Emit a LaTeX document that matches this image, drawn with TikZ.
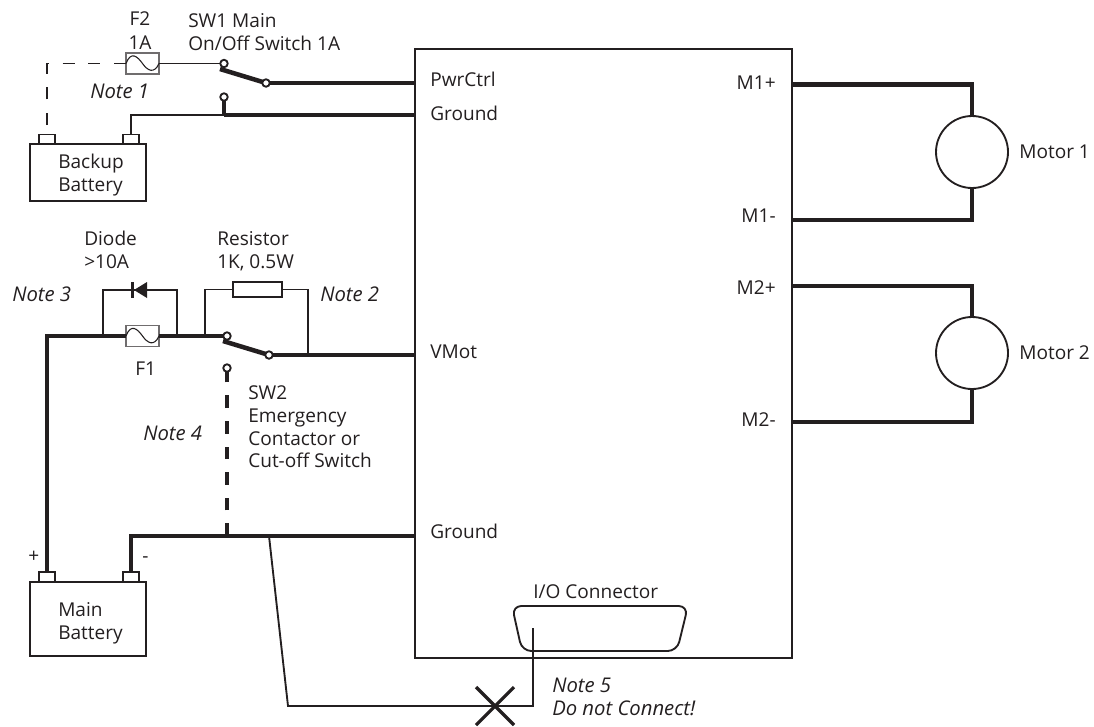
\documentclass[tikz,border=0pt]{standalone}
\usepackage{fontspec}
\setmainfont{Open Sans}
\definecolor{ink}{HTML}{231F20}
\tikzset{
  thinwire/.style={line width=1.4pt},
  thickwire/.style={line width=3.4pt},
  lbl/.style={font=\fontsize{14.3}{17.25}\selectfont, inner sep=0pt, anchor=base west, align=left},
  notelbl/.style={lbl, font=\fontsize{15.2}{17.25}\selectfont\itshape},
  fusebox/.style={draw=ink!65, line width=0.8pt, fill=white, inner sep=0pt, outer sep=0pt, minimum width=24.75pt, minimum height=15.75pt},
  fusewave/.style={line width=0.8pt},
  battery/.style={draw, line width=1.4pt, inner sep=0pt, outer sep=0pt, minimum width=87pt},
  terminal/.style={draw, line width=1.4pt, inner sep=0pt, outer sep=0pt, minimum width=12pt, minimum height=7.5pt},
  contact/.style={circle, draw, line width=1.4pt, fill=white, inner sep=0pt, outer sep=0pt, minimum size=5.6pt},
  motor/.style={circle, draw, line width=1.4pt, inner sep=0pt, outer sep=0pt, minimum size=54pt}
}
\begin{document}
\begin{tikzpicture}[x=0.75pt,y=-0.75pt,color=ink]
\useasboundingbox (0,0) rectangle (1094,726);
\node[draw, line width=1.4pt, inner sep=0pt, outer sep=0pt, minimum width=282.75pt, minimum height=456.75pt] (driver) at (603.5,353.5) {};

\node[battery, minimum height=42.75pt] (backup) at (88,172.5) {};
\node[terminal] (backuppos) at (47,139.5) {};
\node[terminal] (backupneg) at (131,139.5) {};
\node[battery, minimum height=55.5pt] (main) at (88,619) {};
\node[terminal] (mainpos) at (47,577) {};
\node[terminal] (mainneg) at (131,577) {};

\node[fusebox] (ftwo) at (142.5,63.5) {};
\node[fusebox] (fone) at (142.5,336) {};
\node[draw, line width=0.8pt, inner sep=0pt, outer sep=0pt, minimum width=36.75pt, minimum height=11.25pt] (resistor) at (257.5,289.5) {};

\node[contact] (swonea) at (224,63.5) {};
\node[contact] (swoneb) at (266,83) {};
\node[contact] (swonec) at (224,97) {};
\node[contact] (swtwoa) at (227,336) {};
\node[contact] (swtwob) at (269,355) {};
\node[contact] (swtwoc) at (227,368) {};

\node[motor] (motorone) at (972,152) {};
\node[motor] (motortwo) at (972,353) {};

\coordinate (pwrctrl) at (414.5,83);
\coordinate (gndone) at (414.5,115);
\coordinate (vmot) at (414.5,355);
\coordinate (gndtwo) at (414.5,536);
\coordinate (mop) at (792,84.5);
\coordinate (mon) at (792,220);
\coordinate (mtp) at (792,286);
\coordinate (mtn) at (792,422);
\coordinate (gndonetap) at (224,115);
\coordinate (gndtwotap) at (227,536);
\coordinate (gndtwoio) at (269,536);
\coordinate (armone) at (220,69);
\coordinate (armtwo) at (223,341);
\coordinate (dashend) at (47,125);
\coordinate (diodeleft) at (103,336);
\coordinate (dioderight) at (177,336);
\coordinate (resleft) at (205,336);
\coordinate (resright) at (308,355);
\coordinate (iopin) at (533,628);
\coordinate (iobend) at (288,706);
\coordinate (nc) at (495,706);

\draw[thinwire, dash pattern=on 9pt off 10.3pt] (dashend) |- (ftwo.west);
\draw[thinwire] (ftwo.east) -- (swonea);
\draw[thickwire] (armone) -- (swoneb);
\draw[thickwire] (swoneb) -- (pwrctrl);
\draw[thinwire] (backupneg.north) |- (gndonetap);
\draw[thickwire] (swonec) -- (gndonetap);
\draw[thickwire] (gndonetap) -- (gndone);

\draw[fusewave] (ftwo.west) .. controls +(5,-13) and +(-5,-7) .. (ftwo.center) .. controls +(5,7) and +(-5,11) .. (ftwo.east);
\draw[fusewave] (fone.west) .. controls +(5,-13) and +(-5,-7) .. (fone.center) .. controls +(5,7) and +(-5,11) .. (fone.east);

\draw[thickwire] (mainpos.north) |- (fone.west);
\draw[thickwire] (fone.east) -- (swtwoa);
\draw[thickwire] (armtwo) -- (swtwob);
\draw[thickwire] (swtwob) -- (vmot);
\draw[thinwire] (diodeleft) |- (134,290) -- (147,290) -| (dioderight);
\fill (134,290) -- (147,282) -- (147,298) -- cycle;
\fill (131,282) rectangle (134,298);
\draw[thinwire] (resleft) |- (resistor.west);
\draw[thinwire] (resistor.east) -| (resright);
\draw[thickwire, dash pattern=on 9.4pt off 9.8pt] (gndtwotap) -- (swtwoc);
\draw[thickwire] (mainneg.north) |- (gndtwo);

\draw[thinwire] (gndtwoio) -- (iobend) -| (iopin);
\draw[line width=2.4pt] (nc) ++(-19,-19) -- ++(38,38);
\draw[line width=2.4pt] (nc) ++(-19,19) -- ++(38,-38);

\draw[thinwire, rounded corners=7pt] (512,606) -- (688,606) -- (677,651) -- (522,651) -- cycle;

\draw[thickwire] (mop) -| (motorone.north);
\draw[thickwire] (mon) -| (motorone.south);
\draw[thickwire] (mtp) -| (motortwo.north);
\draw[thickwire] (mtn) -| (motortwo.south);

\node[lbl, anchor=base] (lfuse) at (140,25) {F2};
\node[lbl, anchor=base] (lfuseamp) at (140,49) {1A};
\node[lbl] (lswone) at (188,27) {SW1 Main};
\node[lbl] (lswoneb) at (188,50) {On/Off Switch 1A};
\node[notelbl] (nonea) at (90,98) {Note 1};
\node[lbl] (lbackup) at (58,168) {Backup};
\node[lbl] (lbackupb) at (58,191) {Battery};
\node[lbl] (ldiode) at (84,245) {Diode};
\node[lbl] (ldiodeb) at (84,268) {>10A};
\node[lbl] (lres) at (217,245) {Resistor};
\node[lbl] (lresb) at (217,268) {1K, 0.5W};
\node[notelbl] (nthree) at (12,301) {Note 3};
\node[notelbl] (ntwo) at (320,301) {Note 2};
\node[lbl] (lfone) at (135,375) {F1};
\node[lbl] (lswtwo) at (248,399) {SW2};
\node[lbl] (lswtwob) at (248,422) {Emergency};
\node[lbl] (lswtwoc) at (248,445) {Contactor or};
\node[lbl] (lswtwod) at (248,467) {Cut-off Switch};
\node[notelbl] (nfour) at (143,440) {Note 4};
\node[lbl] (lplus) at (28,562) {+};
\node[lbl] (lminus) at (142,562) {-};
\node[lbl] (lmain) at (58,616) {Main};
\node[lbl] (lmainb) at (58,639) {Battery};
\node[lbl] (lio) at (533,598) {I/O Connector};
\node[notelbl] (nfive) at (552,692) {Note 5};
\node[notelbl] (nfiveb) at (552,715) {Do not Connect!};
\node[lbl] (lpwr) at (430,86) {PwrCtrl};
\node[lbl] (lgndone) at (430,120) {Ground};
\node[lbl] (lvmot) at (430,358) {VMot};
\node[lbl] (lgndtwo) at (430,538) {Ground};
\node[lbl, anchor=base east] (lmop) at (776,89) {M1+};
\node[lbl, anchor=base east] (lmon) at (776,222) {M1-};
\node[lbl, anchor=base east] (lmtp) at (776,294) {M2+};
\node[lbl, anchor=base east] (lmtn) at (776,426) {M2-};
\node[lbl] (lmotorone) at (1019,158) {Motor 1};
\node[lbl] (lmotortwo) at (1019,359) {Motor 2};
\end{tikzpicture}
\end{document}
